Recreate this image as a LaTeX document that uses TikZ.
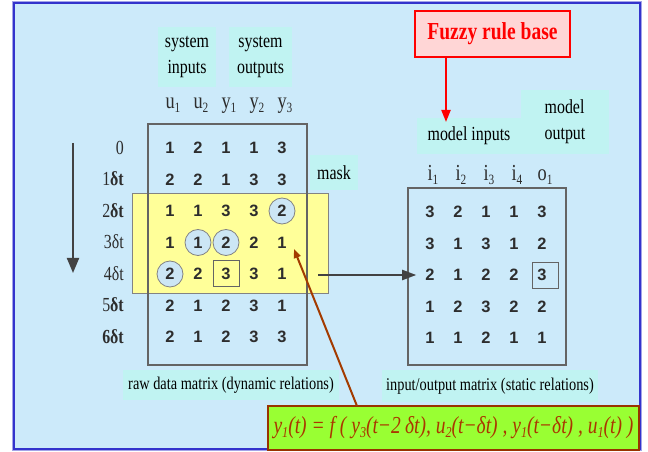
\documentclass[tikz,border=0pt]{standalone}
\usepackage{fontspec}
\setmainfont{Liberation Serif}
\newfontfamily\lab{Liberation Serif}[FakeStretch=0.8]
\newfontfamily\num{Liberation Sans}
\usetikzlibrary{arrows.meta}

\definecolor{bgblue}{RGB}{204,234,250}
\definecolor{frameblue}{RGB}{51,51,204}
\definecolor{tagcyan}{RGB}{192,243,242}
\definecolor{maskyellow}{RGB}{255,255,153}
\definecolor{cellblue}{RGB}{204,230,245}
\definecolor{rulepink}{RGB}{255,214,214}
\definecolor{limefill}{RGB}{153,255,51}
\definecolor{rust}{RGB}{153,51,0}
\definecolor{formulaink}{RGB}{170,55,0}
\definecolor{ink}{RGB}{45,45,45}
\definecolor{boxgray}{RGB}{100,100,100}

\newcommand{\lowsub}[1]{\raisebox{-0.35ex}{\fontsize{0.62em}{1em}\selectfont #1}}

\begin{document}
\begin{tikzpicture}[x=1bp,y=-1bp,
  tag/.style={fill=tagcyan, draw=none, inner sep=0pt, font=\lab\fontsize{20}{26}\selectfont, align=center},
  captag/.style={tag, font=\lab\fontsize{18}{22}\selectfont},
  matbox/.style={draw=boxgray, line width=1.2bp, inner sep=0pt},
  cell/.style={inner sep=0pt, text=ink, font=\num\bfseries\fontsize{16.5}{18}\selectfont},
  ring/.style={circle, draw=boxgray!80, fill=cellblue, line width=0.8bp, minimum size=26bp, inner sep=0pt},
  cellbox/.style={draw=boxgray, line width=1bp, minimum size=26bp, inner sep=0pt},
  colhead/.style={inner sep=0pt, anchor=base, text=ink, font=\lab\fontsize{23}{24}\selectfont},
  rowlab/.style={inner sep=0pt, anchor=base east, text=ink, font=\lab\fontsize{20}{22}\selectfont},
  bigarrow/.style={draw=ink!90, line width=2bp, -{Triangle[width=12bp,length=15bp]}},
]
\useasboundingbox (0,0) rectangle (648,452);
\fill[white] (0,0) rectangle (648,452);

% slide frame
\draw[frameblue!45, line width=4.5bp] (14,3) rectangle (640,449);
\draw[fill=bgblue, draw=frameblue, line width=2.2bp] (14,3) rectangle (640,449);

% caption tags
\node[tag, minimum width=58bp, minimum height=60bp] (sysin) at (187,57) {system\\inputs};
\node[tag, minimum width=63bp, minimum height=60bp] (sysout) at (260.5,57) {system\\outputs};
\node[tag, minimum width=48bp, minimum height=35bp] (masktag) at (334,172.5) {mask};
\node[tag, minimum width=104bp, minimum height=36bp] (modin) at (469,136) {model inputs};
\node[tag, minimum width=88bp, minimum height=64bp, align=left] (modout) at (565,122) {model\\output};
\node[captag, minimum width=216bp, minimum height=30bp] (rawtag) at (231,385) {raw data matrix (dynamic relations)};
\node[captag, minimum width=216bp, minimum height=32bp] (iotag) at (490,386) {input/output matrix (static relations)};

% rule base
\node[draw=red, fill=rulepink, line width=2bp, minimum width=155bp, minimum height=46bp, inner sep=0pt,
      text=red, font=\lab\bfseries\fontsize{24.5}{26}\selectfont] (fuzzy) at (492.5,34) {Fuzzy rule base};
\coordinate (ruletip) at (446,122);
\draw[red, line width=2bp, -{Triangle[width=9bp,length=12bp]}] (fuzzy.south -| ruletip) -- (ruletip);

% sliding mask
\node[fill=maskyellow, draw=boxgray!80, line width=1bp, minimum width=196bp, minimum height=99bp, inner sep=0pt] (mask) at (230,243.5) {};

% matrices
\node[matbox, minimum width=159bp, minimum height=241bp] (rawmat) at (227.5,244.5) {};
\node[matbox, minimum width=158bp, minimum height=177bp] (iomat) at (487,276.5) {};

% column headers
\foreach \h [count=\c] in {u\lowsub{1},u\lowsub{2},y\lowsub{1},y\lowsub{2},y\lowsub{3}}
  \node[colhead] (LH-\c) at ({170+28*(\c-1)+3},109) {\h};
\foreach \h [count=\c] in {i\lowsub{1},i\lowsub{2},i\lowsub{3},i\lowsub{4},o\lowsub{1}}
  \node[colhead] (RH-\c) at ({430+28*(\c-1)+3},181) {\h};

% time stamps
\foreach \t [count=\r] in {0,1{\bfseries δt},2{\bfseries δt},3δt,4δt,5{\bfseries δt},{\bfseries 6δt}}
  \node[rowlab] (T-\r) at (124,{148+31.5*(\r-1)+6.5}) {\t};

% marked entries
\node[ring] (m1) at (282,211) {};
\node[ring] (m2) at (198,242.5) {};
\node[ring] (m3) at (226,242.5) {};
\node[ring] (m4) at (170,274) {};
\node[cellbox] (m5) at (226,274) {};
\node[cellbox] (m6) at (545.5,275.5) {};

% raw data
\foreach \row [count=\r] in {{1,2,1,1,3},{2,2,1,3,3},{1,1,3,3,2},{1,1,2,2,1},{2,2,3,3,1},{2,1,2,3,1},{2,1,2,3,3}}
  \foreach \v [count=\c] in \row
    \node[cell] (L-\r-\c) at ({170+28*(\c-1)},{148+31.5*(\r-1)}) {\v};

% input/output data
\foreach \row [count=\r] in {{3,2,1,1,3},{3,1,3,1,2},{2,1,2,2,3},{1,2,3,2,2},{1,1,2,1,1}}
  \foreach \v [count=\c] in \row
    \node[cell] (R-\r-\c) at ({430+28*(\c-1)},{212+31.5*(\r-1)}) {\v};

% time direction
\coordinate (tstart) at (73,143);
\coordinate (tend) at (73,273);
\draw[bigarrow] (tstart) -- (tend);

% mask row copied into the static matrix
\coordinate (maskout) at (318,275);
\draw[draw=ink!90, line width=2bp, -{Triangle[width=10bp,length=14bp]}] (maskout) -- ([xshift=-9bp]R-3-1.west |- maskout);

% resulting relation
\node[draw=rust, fill=limefill, line width=2.5bp, minimum width=371bp, minimum height=44bp, inner sep=0pt,
      text=formulaink, font=\lab\itshape\fontsize{24.5}{26}\selectfont] (formula) at (453.5,428)
  {y\lowsub{1}(t) = f ( y\lowsub{3}(t−2\,δt), u\lowsub{2}(t−δt) , y\lowsub{1}(t−δt) , u\lowsub{1}(t) )};
\coordinate (brownfoot) at (357,406);
\coordinate (browntip) at (294,249);
\draw[draw=rust!90!orange, line width=2bp, -{Triangle[width=7bp,length=9bp]}] (brownfoot) -- (browntip);
\end{tikzpicture}
\end{document}
